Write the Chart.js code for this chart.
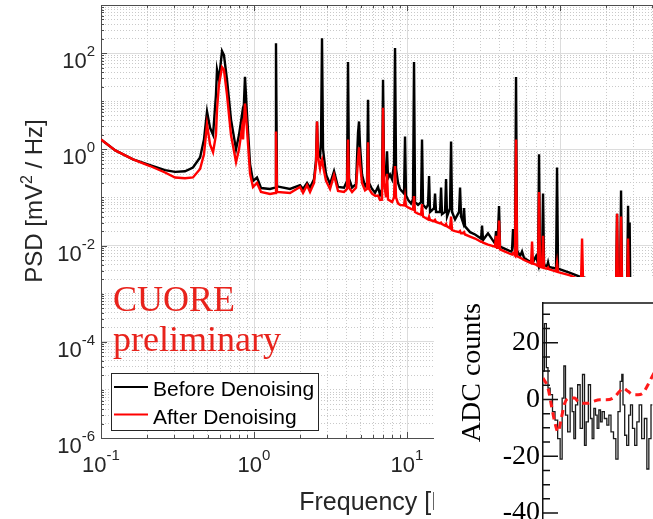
<!DOCTYPE html>
<html>
<head>
<meta charset="utf-8">
<script src="https://cdn.jsdelivr.net/npm/chart.js@4.4.1/dist/chart.umd.min.js"></script>
<style>
  html, body { margin: 0; padding: 0; background: #fff; }
  #wrap { position: relative; width: 653px; height: 519px; overflow: hidden; }
  #psd { position: absolute; left: 0; top: 0; }
  #adc { position: absolute; left: 434px; top: 277px; background: #fff; }
</style>
</head>
<body>
<div id="wrap">
  <canvas id="psd" width="667" height="519"></canvas>
  <canvas id="adc" width="259" height="270"></canvas>
</div>
<script>
// frequency grid [Hz], shared by both PSD curves
var freq = [
  0.1, 0.124, 0.162, 0.209, 0.262, 0.305, 0.354, 0.399, 0.444, 0.471,
  0.493, 0.516, 0.540, 0.564, 0.573, 0.590, 0.618, 0.636, 0.666, 0.707,
  0.763, 0.798, 0.835, 0.848, 0.873, 0.900, 0.942, 0.985, 1.046, 1.111,
  1.272, 1.372, 1.392, 1.413, 1.719, 1.999, 2.091, 2.221, 2.323, 2.467,
  2.542, 2.581, 2.620, 2.700, 2.741, 2.782, 2.825, 2.955, 3.139, 3.334,
  3.540, 3.874, 4.053, 4.115, 4.178, 4.371, 4.642, 4.783, 4.856, 4.929,
  5.080, 5.314, 5.477, 5.562, 5.646, 5.906, 6.178, 6.463, 6.661, 6.865,
  6.969, 7.075, 7.292, 7.402, 7.514, 7.743, 7.980, 8.224, 8.349, 8.475,
  8.735, 9.000, 9.559, 9.703, 9.851, 10.15, 10.62, 10.94, 11.11, 11.28,
  11.80, 12.35, 12.53, 12.72, 13.31, 13.72, 13.93, 14.14, 15.02, 15.24,
  15.47, 16.44, 16.69, 16.93, 17.72, 17.99, 18.26, 19.10, 19.40, 19.69,
  20.60, 21.88, 22.21, 22.55, 23.23, 23.58, 23.94, 25.82, 27.83, 30.46,
  30.92, 31.39, 33.83, 37.59, 38.16, 38.74, 39.34, 39.93, 40.53, 43.71,
  47.83, 48.56, 49.29, 50.79, 51.57, 52.36, 54.77, 56.44, 58.18, 64.64,
  65.62, 66.62, 69.69, 71.82, 72.91, 74.02, 76.28, 77.43, 78.61, 82.24,
  83.49, 84.76, 94.17, 95.59, 97.03, 116.3, 137.2, 139.3, 141.3, 182.5,
  232.3, 235.8, 239.4, 246.7, 250.4, 254.2, 274.2, 278.3, 282.5, 285.0,
  287.5, 333.4, 500
];
// PSD before denoising [mV^2/Hz]
var psdBefore = [
  1.6, 0.95, 0.62, 0.47, 0.37, 0.34, 0.35, 0.42, 0.68, 1.6,
  6.1, 2.8, 2.0, 13.6, 45, 28, 110, 91, 28, 4.2,
  1.0, 2.0, 5.3, 3.3, 32, 5.3, 0.49, 0.22, 0.26, 0.157,
  0.15, 0.16, 161, 0.17, 0.15, 0.18, 0.15, 0.20, 0.16, 0.24,
  0.6, 3.8, 0.8, 0.7, 1.5, 204, 1.0, 0.3, 0.19, 0.35,
  0.165, 0.16, 0.22, 65, 0.25, 0.16, 0.19, 2.2, 3.8, 1.2,
  0.3, 0.17, 0.2, 10.7, 0.2, 0.15, 0.125, 0.165, 0.113, 0.15,
  28, 0.4, 0.3, 0.91, 0.25, 0.3, 0.24, 0.5, 127, 0.4,
  0.2, 0.15, 0.12, 1.85, 0.11, 0.09, 0.075, 0.09, 65, 0.08,
  0.07, 0.08, 1.6, 0.07, 0.06, 0.07, 0.28, 0.05, 0.06, 0.12,
  0.05, 0.05, 0.16, 0.045, 0.05, 0.24, 0.04, 0.06, 1.46, 0.05,
  0.035, 0.05, 0.16, 0.04, 0.03, 0.06, 0.025, 0.019, 0.017, 0.014,
  0.026, 0.013, 0.018, 0.011, 0.02, 0.011, 0.02, 0.066, 0.0095, 0.0085,
  0.0075, 0.008, 0.022, 0.008, 32, 0.008, 0.006, 0.0075, 0.0055, 0.0045,
  0.005, 0.0045, 0.006, 0.0042, 0.79, 0.004, 0.005, 0.12, 0.004, 0.0037,
  0.0045, 0.0036, 0.0033, 0.42, 0.0033, 0.0027, 0.0022, 0.0022, 0.0022, 0.0017,
  0.0013, 0.046, 0.0013, 0.0013, 0.14, 0.0013, 0.0012, 0.067, 0.0012, 0.03,
  0.0012, 0.001, 0.0007
];
// PSD after denoising [mV^2/Hz]
var psdAfter = [
  1.6, 0.95, 0.62, 0.45, 0.33, 0.26, 0.25, 0.26, 0.39, 0.79,
  3.3, 1.27, 0.87, 2.0, 6.7, 22, 51, 45, 13.6, 2.0,
  0.54, 1.0, 2.8, 1.6, 8.9, 2.6, 0.31, 0.165, 0.20, 0.13,
  0.118, 0.124, 2.35, 0.13, 0.124, 0.165, 0.124, 0.18, 0.13, 0.20,
  0.5, 3.8, 0.7, 0.4, 0.55, 0.62, 0.45, 0.22, 0.15, 0.29,
  0.136, 0.13, 0.15, 1.6, 0.16, 0.13, 0.16, 0.62, 1.1, 0.5,
  0.2, 0.14, 0.15, 1.4, 0.15, 0.12, 0.108, 0.11, 0.089, 0.09,
  7.3, 0.2, 0.1, 0.31, 0.09, 0.085, 0.08, 0.1, 0.45, 0.1,
  0.075, 0.07, 0.068, 0.1, 0.066, 0.062, 0.058, 0.056, 0.107, 0.05,
  0.046, 0.044, 0.073, 0.04, 0.037, 0.035, 0.04, 0.034, 0.032, 0.034,
  0.031, 0.029, 0.03, 0.028, 0.026, 0.028, 0.025, 0.023, 0.04, 0.021,
  0.02, 0.019, 0.02, 0.018, 0.018, 0.019, 0.017, 0.0154, 0.014, 0.012,
  0.012, 0.0115, 0.0105, 0.0095, 0.016, 0.009, 0.009, 0.033, 0.0083, 0.0075,
  0.0066, 0.0065, 0.007, 0.0062, 1.6, 0.006, 0.0056, 0.0053, 0.005, 0.0043,
  0.0121, 0.0042, 0.004, 0.0038, 0.13, 0.0036, 0.0035, 0.016, 0.0034, 0.0033,
  0.0035, 0.0032, 0.0029, 0.0043, 0.0028, 0.0024, 0.0019, 0.014, 0.0019, 0.0014,
  0.0011, 0.046, 0.0011, 0.0011, 0.04, 0.0011, 0.001, 0.014, 0.001, 0.001,
  0.001, 0.0008, 0.00056
];

// axis decades (grid) and labelled exponents
var xGridDecades = [-1, 0, 1, 2];
var yGridDecades = [-6, -5, -4, -3, -2, -1, 0, 1, 2, 3];
var xLabelExp = [-1, 0, 1, 2];
var yLabelExp = [-6, -4, -2, 0, 2];

// inset: waveform in ADC counts
var adcTime = [0, 2.7, 4, 6, 8.3, 10.7, 13.3, 16, 18.3, 20, 21.7, 23.3, 26, 28.3, 30,
  31.7, 33.3, 36, 38.3, 40.7, 42.3, 44, 46.7, 48.3, 50, 51.7, 53.3, 55, 56.7, 58.3,
  60, 62.7, 65, 66.7, 69.3, 71.7, 74, 76, 78.3, 79.3, 80.7, 82.7, 84.7, 86.7, 88.3,
  90.7, 92.7, 95, 97.3, 100, 102.7, 105, 106.7, 109.3];
var adcRaw = [10, 26.7, 11.2, 4, 1.7, -4.3, -7.3, -13.8, -21, 0.5, 11.8, -5.5, -11.4, 4, -4.3,
  -13.8, -1.9, 5.2, -10.2, 8.8, -16.2, -7.9, 5.2, -6.7, -13.8, -3.1, -5.5, -10.2, -3.7, -7.9,
  -4.3, -6.7, -9, -5.5, -11.4, -13.8, -21, -4.3, 6.4, 8.8, -1.9, -12.6, -16.2, -5.5, -1.9,
  -10.2, -16.2, -7.9, -1.9, -13.8, -6.7, -24.5, -13.8, -1.9];
var adcDenTime = [0, 5, 8.3, 11.7, 15, 18.3, 21.7, 26.7, 31.7, 35, 40, 45, 50, 56.7, 63.3,
  70, 76.7, 80, 85, 90, 95, 100, 105, 109.3, 115];
var adcDen = [7.6, 4, -1.9, -7.9, -11.4, -6.7, -1.3, 0.5, 0.5, -0.7, -1.3, -1.3, -0.7, -0.1, -0.1,
  0.5, 2.9, 4, 2.9, 1.7, 1.7, 2.3, 5.2, 8.2, 12];
var adcTicks = [-40, -20, 0, 20];

var SANS = '"Liberation Sans", Arial, sans-serif';
var SERIF = '"Liberation Serif", "Times New Roman", serif';

function pts(xs, ys) {
  return xs.map(function (x, i) { return { x: x, y: ys[i] }; });
}

function logTicks(decades, max) {
  var t = [];
  decades.forEach(function (e) {
    for (var m = 1; m <= 9; m++) {
      var v = m * Math.pow(10, e);
      if (v <= max * 1.0001) t.push({ value: v });
    }
  });
  return t;
}

function expOf(v) {
  var l = Math.log10(v);
  return Math.abs(l - Math.round(l)) < 1e-6 ? Math.round(l) : null;
}

function xMajor(v) { return expOf(v) !== null; }
function yMajor(v) { var e = expOf(v); return e !== null && yLabelExp.indexOf(e) >= 0; }

function drawPow(ctx, x, baseY, supY, e, align) {
  var big = '22px ' + SANS, small = '15px ' + SANS;
  var s = String(e);
  ctx.font = big;
  var wb = ctx.measureText('10').width;
  ctx.font = small;
  var we = ctx.measureText(s).width;
  var left = align === 'center' ? x - (wb + we) / 2 : x - (wb + we);
  ctx.font = big;
  ctx.fillText('10', left, baseY);
  ctx.font = small;
  ctx.fillText(s, left + wb, supY);
}

var psdDecor = {
  id: 'psdDecor',
  afterDraw: function (chart) {
    var ctx = chart.ctx, a = chart.chartArea;
    var sx = chart.scales.x, sy = chart.scales.y;
    ctx.save();

    // box top line and inward tick marks
    ctx.strokeStyle = '#4d4d4d';
    ctx.lineWidth = 1;
    ctx.beginPath();
    ctx.moveTo(a.left, a.top + 0.5);
    ctx.lineTo(a.right, a.top + 0.5);
    sx.ticks.forEach(function (t) {
      var px = Math.round(sx.getPixelForValue(t.value)) + 0.5;
      var len = xMajor(t.value) ? 6 : 3;
      ctx.moveTo(px, a.bottom); ctx.lineTo(px, a.bottom - len);
      ctx.moveTo(px, a.top); ctx.lineTo(px, a.top + len);
    });
    sy.ticks.forEach(function (t) {
      var py = Math.round(sy.getPixelForValue(t.value)) + 0.5;
      var len = yMajor(t.value) ? 6 : 3;
      ctx.moveTo(a.left, py); ctx.lineTo(a.left + len, py);
    });
    ctx.stroke();

    // tick labels
    ctx.fillStyle = '#262626';
    ctx.textAlign = 'left';
    ctx.textBaseline = 'alphabetic';
    xLabelExp.forEach(function (e) {
      var px = sx.getPixelForValue(Math.pow(10, e));
      drawPow(ctx, px, a.bottom + 34, a.bottom + 22, e, 'center');
    });
    yLabelExp.forEach(function (e) {
      var py = sy.getPixelForValue(Math.pow(10, e));
      drawPow(ctx, a.left - 6, py + 15, py + 3, e, 'right');
    });

    // y title with superscript
    ctx.save();
    ctx.translate(42, 201);
    ctx.rotate(-Math.PI / 2);
    var f1 = '24px ' + SANS, f2 = '16px ' + SANS;
    ctx.font = f1;
    var w1 = ctx.measureText('PSD [mV').width;
    var w3 = ctx.measureText(' / Hz]').width;
    ctx.font = f2;
    var w2 = ctx.measureText('2').width;
    var x0 = -(w1 + w2 + w3) / 2;
    ctx.font = f1;
    ctx.fillText('PSD [mV', x0, 0);
    ctx.font = f2;
    ctx.fillText('2', x0 + w1, -10);
    ctx.font = f1;
    ctx.fillText(' / Hz]', x0 + w1 + w2, 0);
    ctx.restore();

    // preliminary stamp
    ctx.fillStyle = '#e8231c';
    ctx.font = '36px ' + SERIF;
    ctx.fillText('CUORE', a.left + 12, 311);
    ctx.fillText('preliminary', a.left + 12, 351);

    // legend
    var lx = a.left + 10, ly = 373, lw = 207, lh = 57;
    ctx.fillStyle = '#fff';
    ctx.fillRect(lx, ly, lw, lh);
    ctx.strokeStyle = '#262626';
    ctx.lineWidth = 1;
    ctx.strokeRect(lx + 0.5, ly + 0.5, lw, lh);
    var rows = [chart.data.datasets[1], chart.data.datasets[0]];
    ctx.font = '21px ' + SANS;
    rows.forEach(function (ds, i) {
      var yy = 387 + i * 27.5;
      ctx.strokeStyle = ds.borderColor;
      ctx.lineWidth = 2;
      ctx.beginPath();
      ctx.moveTo(lx + 3, yy);
      ctx.lineTo(lx + 37, yy);
      ctx.stroke();
      ctx.fillStyle = '#000';
      ctx.fillText(ds.label, lx + 42, yy + 9);
    });
    ctx.restore();
  }
};

new Chart(document.getElementById('psd'), {
  type: 'line',
  data: {
    datasets: [
      { label: 'After Denoising', data: pts(freq, psdAfter), borderColor: '#ff0000',
        borderWidth: 2.4, pointRadius: 0, order: 0 },
      { label: 'Before Denoising', data: pts(freq, psdBefore), borderColor: '#000000',
        borderWidth: 2.4, pointRadius: 0, order: 1 }
    ]
  },
  options: {
    responsive: false,
    animation: false,
    devicePixelRatio: 1,
    layout: { padding: { top: 5, left: 0, right: 0, bottom: 0 } },
    plugins: { legend: { display: false }, tooltip: { enabled: false } },
    scales: {
      x: {
        type: 'logarithmic',
        min: 0.1,
        max: 500,
        afterBuildTicks: function (s) { s.ticks = logTicks(xGridDecades, 500); },
        afterFit: function (s) { s.height = 81; },
        ticks: { display: false },
        grid: {
          drawTicks: false,
          color: function (c) { return c.tick && xMajor(c.tick.value) ? '#dcdcdc' : '#c9c9c9'; }
        },
        border: {
          color: '#4d4d4d',
          dash: function (c) { return c.type === 'tick' && !xMajor(c.tick.value) ? [1, 2] : []; }
        },
        title: {
          display: true,
          text: 'Frequency [Hz]',
          color: '#262626',
          font: { family: SANS, size: 25 },
          padding: { top: 0, bottom: 1 }
        }
      },
      y: {
        type: 'logarithmic',
        min: 1e-6,
        max: 1e3,
        afterBuildTicks: function (s) { s.ticks = logTicks(yGridDecades, 1e3); },
        afterFit: function (s) { s.width = 101; },
        ticks: { display: false },
        grid: {
          drawTicks: false,
          color: function (c) { return c.tick && yMajor(c.tick.value) ? '#dcdcdc' : '#c9c9c9'; }
        },
        border: {
          color: '#4d4d4d',
          dash: function (c) { return c.type === 'tick' && !yMajor(c.tick.value) ? [1, 2] : []; }
        }
      }
    }
  },
  plugins: [psdDecor]
});

var adcDecor = {
  id: 'adcDecor',
  afterDraw: function (chart) {
    var ctx = chart.ctx, a = chart.chartArea, sy = chart.scales.y;
    ctx.save();
    ctx.strokeStyle = '#111';
    ctx.lineWidth = 1.5;
    ctx.beginPath();
    ctx.moveTo(a.left, a.top);
    ctx.lineTo(a.right, a.top);
    for (var v = -45; v <= 30; v += 5) {
      var py = sy.getPixelForValue(v);
      var len = v % 20 === 0 ? 15 : 7;
      ctx.moveTo(a.left, py);
      ctx.lineTo(a.left + len, py);
    }
    ctx.stroke();
    ctx.restore();
  }
};

new Chart(document.getElementById('adc'), {
  type: 'line',
  data: {
    datasets: [
      { label: 'Denoised', data: pts(adcDenTime, adcDen), borderColor: '#ff1a1a',
        borderWidth: 3, borderDash: [7, 5], pointRadius: 0, cubicInterpolationMode: 'monotone', order: 0 },
      { label: 'Raw', data: pts(adcTime, adcRaw), borderColor: '#1a1a1a',
        borderWidth: 1.3, pointRadius: 0, stepped: 'middle', order: 1 }
    ]
  },
  options: {
    responsive: false,
    animation: false,
    devicePixelRatio: 1,
    layout: { padding: { top: 26, bottom: 3, left: 0, right: 0 } },
    plugins: { legend: { display: false }, tooltip: { enabled: false } },
    scales: {
      x: { type: 'linear', min: 0, max: 150, display: false },
      y: {
        min: -45,
        max: 34,
        afterBuildTicks: function (s) { s.ticks = adcTicks.map(function (v) { return { value: v }; }); },
        afterFit: function (s) { s.width = 109; },
        grid: { display: false, drawTicks: false },
        border: { display: true, color: '#111', width: 1.5 },
        ticks: { color: '#000', padding: 3, font: { family: SERIF, size: 28 } },
        title: {
          display: true,
          text: 'ADC counts',
          align: 'end',
          color: '#000',
          font: { family: SERIF, size: 28 },
          padding: { top: 22, bottom: 0 }
        }
      }
    }
  },
  plugins: [adcDecor]
});
</script>
</body>
</html>
